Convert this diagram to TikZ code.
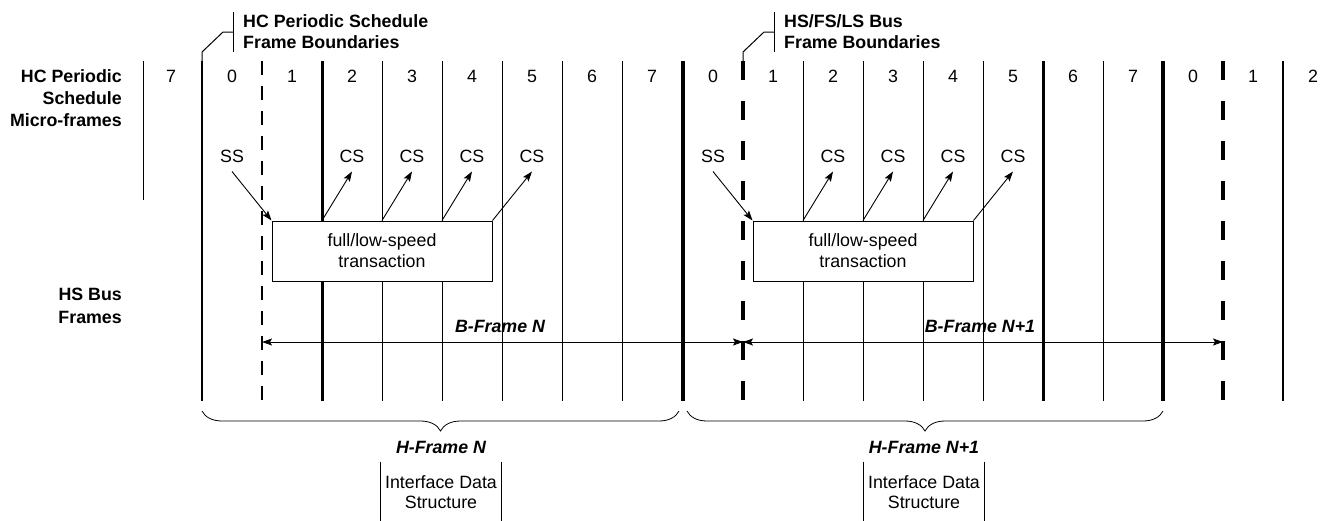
\documentclass[tikz,border=0pt]{standalone}
\usepackage{fontspec}
\setmainfont{Liberation Sans}
\usetikzlibrary{arrows.meta,decorations.pathreplacing}

\begin{document}
\begin{tikzpicture}[
        x=1pt, y=-1pt,
        every node/.style={font=\fontsize{17.8}{21}\selectfont},
        num/.style={inner sep=0pt},
        sidelbl/.style={font=\fontsize{17.8}{22}\selectfont\bfseries, align=right, anchor=east, inner sep=0pt},
        hdr/.style={font=\fontsize{17.8}{21}\selectfont\bfseries, align=left, anchor=west, inner xsep=10pt, inner ysep=3pt},
        frm/.style={font=\fontsize{17.8}{21}\selectfont\bfseries\itshape, inner sep=0pt},
        thinline/.style={line width=1pt},
        medline/.style={line width=2pt},
        heavyline/.style={line width=3pt},
        thickline/.style={line width=4.5pt},
        hcdash/.style={line width=2.7pt, dash pattern=on 14pt off 11pt},
        busdash/.style={line width=4.5pt, dash pattern=on 19pt off 21pt},
        txn/.style={rectangle, draw, fill=white, line width=1pt, minimum width=220pt, minimum height=60pt, align=center, inner sep=0pt},
        cs/.style={inner sep=0pt},
        pt/.style={-{Stealth[length=10pt,width=7pt,inset=2pt]}, line width=0.9pt},
        span/.style={{Stealth[length=10pt,width=7pt,inset=2pt]}-{Stealth[length=10pt,width=7pt,inset=2pt]}, line width=1pt},
        hbrace/.style={decorate, decoration={brace, mirror, amplitude=20pt}, line width=0.8pt},
        ids/.style={minimum width=120pt, minimum height=60pt, align=center, inner sep=0pt, font=\fontsize{17.8}{20}\selectfont}
    ]
    \useasboundingbox (0,0) rectangle (1322,520);

    % Tops of the micro-frame boundaries
    \coordinate (m0) at (143,61);
    \coordinate (m1) at (202,61);
    \coordinate (m2) at (262,61);
    \coordinate (m3) at (322,61);
    \coordinate (m4) at (382,61);
    \coordinate (m5) at (442,61);
    \coordinate (m6) at (502,61);
    \coordinate (m7) at (562,61);
    \coordinate (m8) at (622,61);
    \coordinate (m9) at (683,61);
    \coordinate (m10) at (743,61);
    \coordinate (m11) at (803,61);
    \coordinate (m12) at (863,61);
    \coordinate (m13) at (923,61);
    \coordinate (m14) at (983,61);
    \coordinate (m15) at (1043,61);
    \coordinate (m16) at (1103,61);
    \coordinate (m17) at (1163,61);
    \coordinate (m18) at (1223,61);
    \coordinate (m19) at (1283,61);
    \coordinate (bot) at (0,401);
    \coordinate (arr) at (0,342);

    % Boundaries
    \draw[thinline] (m0) -- ++(0,139);
    \draw[medline] (m1) -- (m1 |- bot);
    \draw[hcdash] (m2) -- (m2 |- bot);
    \draw[heavyline] (m3) -- (m3 |- bot);
    \draw[thinline] (m4) -- (m4 |- bot);
    \draw[thinline] (m5) -- (m5 |- bot);
    \draw[thinline] (m6) -- (m6 |- bot);
    \draw[thinline] (m7) -- (m7 |- bot);
    \draw[thinline] (m8) -- (m8 |- bot);
    \draw[thickline] (m9) -- (m9 |- bot);
    \draw[busdash] (m10) -- (m10 |- bot);
    \draw[thinline] (m11) -- (m11 |- bot);
    \draw[thinline] (m12) -- (m12 |- bot);
    \draw[thinline] (m13) -- (m13 |- bot);
    \draw[thinline] (m14) -- (m14 |- bot);
    \draw[heavyline] (m15) -- (m15 |- bot);
    \draw[thinline] (m16) -- (m16 |- bot);
    \draw[thickline] (m17) -- (m17 |- bot);
    \draw[busdash] (m18) -- (m18 |- bot);
    \draw[medline] (m19) -- (m19 |- bot);

    % Micro-frame numbers
    \node[num] (d0) at (171,76) {7};
    \node[num] (d1) at (232,76) {0};
    \node[num] (d2) at (292,76) {1};
    \node[num] (d3) at (352,76) {2};
    \node[num] (d4) at (412,76) {3};
    \node[num] (d5) at (472,76) {4};
    \node[num] (d6) at (532,76) {5};
    \node[num] (d7) at (592,76) {6};
    \node[num] (d8) at (652,76) {7};
    \node[num] (d9) at (713,76) {0};
    \node[num] (d10) at (773,76) {1};
    \node[num] (d11) at (833,76) {2};
    \node[num] (d12) at (893,76) {3};
    \node[num] (d13) at (953,76) {4};
    \node[num] (d14) at (1013,76) {5};
    \node[num] (d15) at (1073,76) {6};
    \node[num] (d16) at (1133,76) {7};
    \node[num] (d17) at (1193,76) {0};
    \node[num] (d18) at (1253,76) {1};
    \node[num] (d19) at (1313,76) {2};

    % Side labels
    \node[sidelbl] (mfLbl) at (122,98) {HC Periodic\\Schedule\\Micro-frames};
    \node[sidelbl, font=\fontsize{17.8}{23}\selectfont\bfseries] (hsLbl) at (122,306) {HS Bus\\Frames};

    % Boundary callouts
    \node[hdr] (hdrHC) at (233,32) {HC Periodic Schedule\\Frame Boundaries};
    \draw[thinline] (hdrHC.north west) -- (hdrHC.south west);
    \draw[thinline] (hdrHC.west) -- ++(-10,0) -- ++(-21,20) -- (m1);
    \node[hdr] (hdrBus) at (774,32) {HS/FS/LS Bus\\Frame Boundaries};
    \draw[thinline] (hdrBus.north west) -- (hdrBus.south west);
    \draw[thinline] (hdrBus.west) -- ++(-10,0) -- ++(-21,20) -- (m10);

    % Transactions
    \node[txn] (txnA) at (382,251) {full/low-speed\\transaction};
    \node[txn] (txnB) at (863,251) {full/low-speed\\transaction};

    % Split transaction tokens
    \node[cs] (ssA) at (232,156) {SS};
    \node[cs] (csA1) at (352,156) {CS};
    \node[cs] (csA2) at (412,156) {CS};
    \node[cs] (csA3) at (472,156) {CS};
    \node[cs] (csA4) at (532,156) {CS};
    \node[cs] (ssB) at (713,156) {SS};
    \node[cs] (csB1) at (833,156) {CS};
    \node[cs] (csB2) at (893,156) {CS};
    \node[cs] (csB3) at (953,156) {CS};
    \node[cs] (csB4) at (1013,156) {CS};

    \draw[pt] ([yshift=-9pt]ssA.south) -- (txnA.north west);
    \draw[pt] (txnA.north -| m3) -- ([yshift=-9pt]csA1.south);
    \draw[pt] (txnA.north -| m4) -- ([yshift=-9pt]csA2.south);
    \draw[pt] (txnA.north -| m5) -- ([yshift=-9pt]csA3.south);
    \draw[pt] (txnA.north east) -- ([yshift=-9pt]csA4.south);
    \draw[pt] ([yshift=-9pt]ssB.south) -- (txnB.north west);
    \draw[pt] (txnB.north -| m11) -- ([yshift=-9pt]csB1.south);
    \draw[pt] (txnB.north -| m12) -- ([yshift=-9pt]csB2.south);
    \draw[pt] (txnB.north -| m13) -- ([yshift=-9pt]csB3.south);
    \draw[pt] (txnB.north east) -- ([yshift=-9pt]csB4.south);

    % Bus frames
    \draw[span] (m2 |- arr) -- (m10 |- arr);
    \draw[span] (m10 |- arr) -- (m18 |- arr);
    \node[frm] (bfA) at (500,326) {B-Frame N};
    \node[frm] (bfB) at (980,326) {B-Frame N+1};

    % Host frames
    \draw[hbrace] (202,411) -- (679,411);
    \draw[hbrace] (687,411) -- (1163,411);
    \node[frm] (hfA) at (441,447) {H-Frame N};
    \node[frm] (hfB) at (924,447) {H-Frame N+1};

    \node[ids] (idsA) at (441,492) {Interface Data\\Structure};
    \draw[thinline] (idsA.north west) -- (idsA.south west);
    \draw[thinline] (idsA.north east) -- (idsA.south east);
    \node[ids] (idsB) at (924,492) {Interface Data\\Structure};
    \draw[thinline] (idsB.north west) -- (idsB.south west);
    \draw[thinline] (idsB.north east) -- (idsB.south east);

    \end{tikzpicture}
\end{document}
